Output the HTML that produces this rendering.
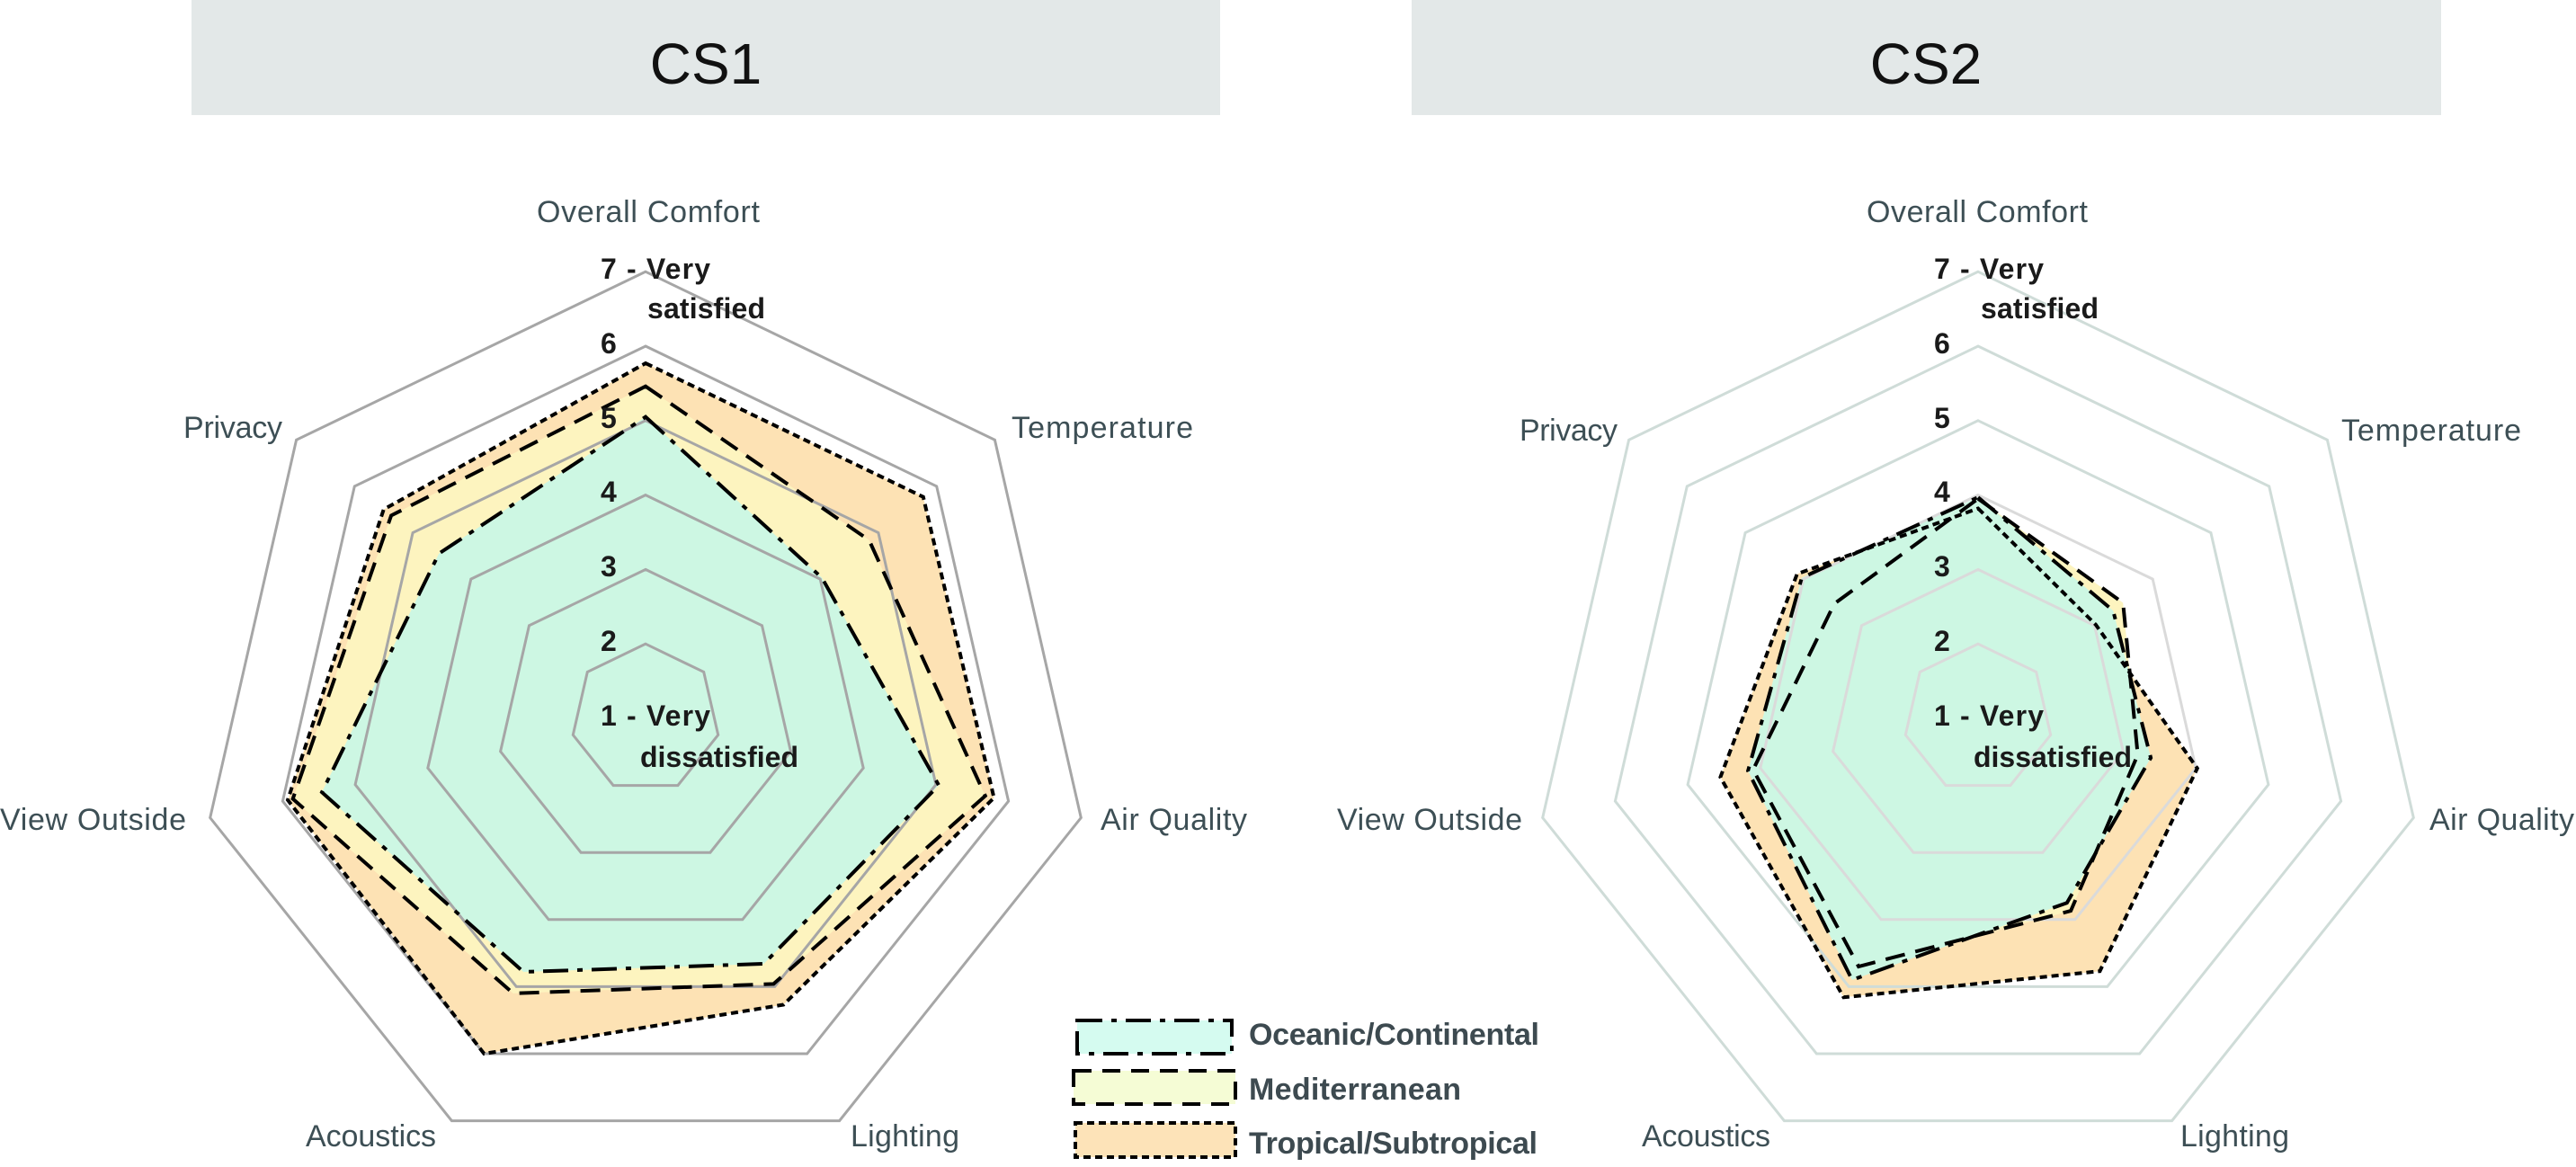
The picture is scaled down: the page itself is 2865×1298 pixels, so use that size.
<!DOCTYPE html>
<html><head><meta charset="utf-8"><style>
html,body{margin:0;padding:0;background:#fff;}
svg{display:block;}
.ax{font-family:"Liberation Sans",sans-serif;font-size:34px;fill:#3d4f55;}
.tk{font-family:"Liberation Sans",sans-serif;font-size:32px;font-weight:bold;fill:#1a1a1a;}
.lg{font-family:"Liberation Sans",sans-serif;font-size:34px;font-weight:bold;fill:#3d4a50;}
.hd{font-family:"Liberation Sans",sans-serif;font-size:64px;fill:#111;}
</style></head><body>
<svg id="s" width="2865" height="1298" viewBox="0 0 2865 1298" xmlns="http://www.w3.org/2000/svg">
<rect x="213" y="0" width="1144" height="128" fill="#e3e8e8"/>
<rect x="1570" y="0" width="1145" height="128" fill="#e3e8e8"/>
<text class="hd" x="785" y="93" text-anchor="middle">CS1</text>
<text class="hd" x="2142" y="93" text-anchor="middle">CS2</text>
<g id="c1"></g><g id="c2"></g>
<!-- CS1 axis labels -->
<text class="ax" x="597" y="247" textLength="248">Overall Comfort</text>
<text class="ax" x="1125" y="487" textLength="202">Temperature</text>
<text class="ax" x="204" y="487" textLength="110">Privacy</text>
<text class="ax" x="1224" y="923" textLength="163">Air Quality</text>
<text class="ax" x="0" y="923" textLength="207">View Outside</text>
<text class="ax" x="340" y="1275" textLength="145">Acoustics</text>
<text class="ax" x="946" y="1275" textLength="121">Lighting</text>
<!-- CS2 axis labels -->
<text class="ax" x="2076" y="247" textLength="246">Overall Comfort</text>
<text class="ax" x="2604" y="490" textLength="200">Temperature</text>
<text class="ax" x="1690" y="490" textLength="109">Privacy</text>
<text class="ax" x="2702" y="923" textLength="161">Air Quality</text>
<text class="ax" x="1487" y="923" textLength="206">View Outside</text>
<text class="ax" x="1826" y="1275" textLength="143">Acoustics</text>
<text class="ax" x="2425" y="1275" textLength="121">Lighting</text>
<!-- tick labels CS1 -->
<g class="tk">
<text x="668" y="310" textLength="122">7 - Very</text>
<text x="720" y="354" textLength="131">satisfied</text>
<text x="668" y="393">6</text>
<text x="668" y="476">5</text>
<text x="668" y="558">4</text>
<text x="668" y="641">3</text>
<text x="668" y="724">2</text>
<text x="668" y="807" textLength="122">1 - Very</text>
<text x="712" y="853" textLength="176">dissatisfied</text>
</g>
<g class="tk" transform="translate(1483,0)">
<text x="668" y="310" textLength="122">7 - Very</text>
<text x="720" y="354" textLength="131">satisfied</text>
<text x="668" y="393">6</text>
<text x="668" y="476">5</text>
<text x="668" y="558">4</text>
<text x="668" y="641">3</text>
<text x="668" y="724">2</text>
<text x="668" y="807" textLength="122">1 - Very</text>
<text x="712" y="853" textLength="176">dissatisfied</text>
</g>
<!-- legend -->
<rect x="1198" y="1135" width="172" height="37" fill="#d5fbf0" stroke="#000" stroke-width="4" stroke-dasharray="28,10,6,10"/>
<rect x="1194" y="1191" width="180" height="37" fill="#f5fcd5" stroke="#000" stroke-width="4" stroke-dasharray="20,12"/>
<rect x="1196" y="1249" width="178" height="38" fill="#fde3b8" stroke="#000" stroke-width="4" stroke-dasharray="8,5"/>
<text class="lg" x="1389" y="1162" textLength="323">Oceanic/Continental</text>
<text class="lg" x="1389" y="1223" textLength="236">Mediterranean</text>
<text class="lg" x="1389" y="1283" textLength="321">Tropical/Subtropical</text>
</svg>
<script>
var NS="http://www.w3.org/2000/svg";
function pts(cx,cy,vals){var s=[];for(var k=0;k<7;k++){var a=k*2*Math.PI/7,r=(vals[k]-1)*82.8;s.push((cx+r*Math.sin(a)).toFixed(1)+","+(cy-r*Math.cos(a)).toFixed(1));}return s.join(" ");}
function poly(g,p,fill,stroke,dash,w){var e=document.createElementNS(NS,"polygon");e.setAttribute("points",p);e.setAttribute("fill",fill);e.setAttribute("stroke",stroke);if(dash)e.setAttribute("stroke-dasharray",dash);e.setAttribute("stroke-width",w);e.setAttribute("stroke-linejoin","miter");g.appendChild(e);}
function chart(id,cx,cy,oc,me,tr,gcol,gin){
 var g=document.getElementById(id);
 poly(g,pts(cx,cy,tr),"#fde2b4","none",null,0);
 poly(g,pts(cx,cy,me),"#fdf4bf","none",null,0);
 poly(g,pts(cx,cy,oc),"#cdf7e3","none",null,0);
 for(var l=2;l<=7;l++){var v=[l,l,l,l,l,l,l];poly(g,pts(cx,cy,v),"none",(l<=4?gin:gcol),null,3);}
 poly(g,pts(cx,cy,tr),"none","#000","8,5",4);
 poly(g,pts(cx,cy,me),"none","#000","22,12",4);
 poly(g,pts(cx,cy,oc),"none","#000","28,10,6,10",4);
}
chart("c1",718,799,[5.05,4.03,5.04,4.66,4.78,5.46,4.55],[5.46,4.84,5.68,4.96,5.1,5.86,5.37],[5.77,5.77,5.8,5.27,6.0,5.93,5.5],"#a6a6a6","#a6a6a6");
chart("c2",2200,799,[3.97,3.32,3.38,3.75,4.9,4.17,4.03],[3.95,3.49,3.2,3.87,4.7,4.1,3.47],[3.82,3.02,4.02,4.77,5.16,4.55,4.11],"#cfdcd8","#dadada");
</script>
</body></html>
